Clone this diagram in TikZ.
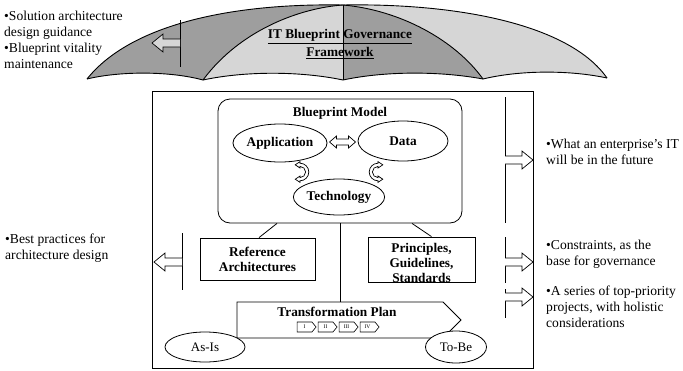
\documentclass[tikz,border=0pt]{standalone}
\usepackage{fontspec}
\setmainfont{Liberation Serif}
\usetikzlibrary{shapes.geometric,shapes.symbols,calc}
\definecolor{umdark}{gray}{0.62}
\definecolor{umlight}{gray}{0.84}
\begin{document}
\begin{tikzpicture}[x=1pt,y=-1pt,
  box/.style={draw, line width=0.8pt, inner sep=0pt},
  lbl/.style={font=\fontsize{13.3}{15}\selectfont\bfseries, align=center, inner sep=0pt},
  side/.style={font=\fontsize{13.6}{16}\selectfont, align=left, anchor=west, inner sep=0pt},
  oval/.style={draw, ellipse, line width=0.8pt, fill=white, inner sep=0pt},
  conn/.style={line width=0.8pt},
  umline/.style={line width=0.9pt},
  chev/.style={draw, signal, signal to=east, signal pointer angle=100, minimum width=19pt, minimum height=10pt, inner sep=0pt, line width=0.6pt, font=\fontsize{5.5}{5.5}\selectfont},
  harrow/.pic={\draw[line width=0.7pt, pic actions] (0,-4) -- (17,-4) -- (17,-9) -- (28,0) -- (17,9) -- (17,4) -- (0,4);},
  dharrow/.pic={\draw[line width=0.7pt, fill=white] (-13,0) -- (-6,-6) -- (-6,-3) -- (6,-3) -- (6,-6) -- (13,0) -- (6,6) -- (6,3) -- (-6,3) -- (-6,6) -- cycle;},
  cdarrow/.pic={\draw[line width=0.7pt, fill=white] (0,11) arc[start angle=90, end angle=-90, radius=11] -- (0,-13) -- (-6,-9) -- (0,-5) -- (0,-7) arc[start angle=-90, end angle=90, radius=7] -- (0,5) -- (-6,9) -- (0,13) -- cycle;}
]
\useasboundingbox (0,0) rectangle (683,370);

% ---------- umbrella ----------
\fill[umdark] (87,79) .. controls (130,25) and (230,3) .. (343,5) .. controls (300,8) and (240,30) .. (203,80) .. controls (170,71) and (120,71) .. (87,79) -- cycle;
\fill[umlight] (203,80) .. controls (240,30) and (300,8) .. (343,5) -- (343,80) .. controls (300,71) and (245,71) .. (203,80) -- cycle;
\fill[umdark] (343,5) .. controls (400,10) and (455,40) .. (483,79) .. controls (440,71) and (385,71) .. (343,80) -- cycle;
\fill[umlight] (343,5) .. controls (460,3) and (570,25) .. (607,78) .. controls (570,70) and (520,70) .. (483,79) .. controls (455,40) and (400,10) .. (343,5) -- cycle;
\draw[umline] (87,79) .. controls (130,25) and (230,3) .. (343,5) .. controls (460,3) and (570,25) .. (607,78);
\draw[umline] (203,80) .. controls (240,30) and (300,8) .. (343,5) .. controls (400,10) and (455,40) .. (483,79);
\draw[umline] (87,79) .. controls (120,71) and (170,71) .. (203,80) .. controls (245,71) and (300,71) .. (343,80) .. controls (385,71) and (440,71) .. (483,79) .. controls (520,70) and (570,70) .. (607,78);
\draw[umline] (343,5) -- (343,80);
\node[lbl] (gov) at (340,44) {\underline{IT Blueprint Governance}\\[3pt]\underline{Framework}};
\coordinate (ub1) at (180,20);
\coordinate (ub2) at (180,67);
\draw[umline] (ub1) -- (ub2);
\pic[rotate=180, fill=umlight] at (180,43) {harrow};

% ---------- side texts ----------
\node[side] (t1) at (4,40) {•Solution architecture\\design guidance\\•Blueprint vitality\\maintenance};
\node[side] (t2) at (5,248) {•Best practices for\\architecture design};
\node[side] (t3) at (546,152) {•What an enterprise's IT\\will be in the future};
\node[side] (t4) at (546,254) {•Constraints, as the\\base for governance};
\node[side] (t5) at (546,307) {•A series of top-priority\\projects, with holistic\\considerations};

% ---------- main box ----------
\node[box, minimum width=381pt, minimum height=277pt] (main) at (342.5,229.5) {};
\node[box, rounded corners=12pt, minimum width=244pt, minimum height=124pt] (bm) at (340,161) {};
\node[lbl] (bmt) at (340,113) {Blueprint Model};
\node[oval, lbl, minimum width=90pt, minimum height=38pt] (app) at (280,143) {Application};
\node[oval, lbl, minimum width=90pt, minimum height=40pt] (data) at (403,141) {Data};
\node[oval, lbl, minimum width=82pt, minimum height=36pt] (tech) at (339,197) {Technology};
\pic at ($(app.east)!0.5!(data.west)$) {dharrow};
\pic[scale=0.8] at (300,172) {cdarrow};
\pic[xscale=-0.8, yscale=0.8] at (378,172) {cdarrow};

\node[box, lbl, minimum width=115pt, minimum height=42pt] (ref) at (257.5,259) {Reference\\Architectures};
\node[box, minimum width=107pt, minimum height=45pt] (pgs) at (421.5,259.5) {};
\node[lbl] (pgst) at (421.5,262.5) {Principles,\\Guidelines,\\Standards};

% transformation plan (pentagon)
\draw[line width=0.8pt] (237,302) -- (443,302) -- (461,320) -- (443,338) -- (237,338) -- cycle;
\coordinate (tptop) at (340,302);
\node[lbl] (tpt) at (337,312) {Transformation Plan};
\node[chev] (c1) at (304.5,327) {I};
\node[chev] (c2) at (325.5,327) {II};
\node[chev] (c3) at (346.5,327) {III};
\node[chev] (c4) at (367.5,327) {IV};

\draw[conn] ($(bm.south)+(-63,0)$) -- ($(ref.north)+(1.5,0)$);
\draw[conn] ($(bm.south)+(72,0)$) -- ($(pgs.north)+(10,0)$);
\draw[conn] (bm.south) -- (bm.south |- tptop);

\node[oval, font=\fontsize{13}{15}\selectfont, minimum width=80pt, minimum height=30pt] (asis) at (205,347) {As-Is};
\node[oval, font=\fontsize{13}{15}\selectfont, minimum width=61pt, minimum height=32pt] (tobe) at (456,347) {To-Be};

% ---------- brackets and arrows ----------
\coordinate (r1a) at (505,97);  \coordinate (r1b) at (505,223);
\coordinate (r2a) at (505,237); \coordinate (r2b) at (505,283);
\coordinate (r3a) at (505,289); \coordinate (r3b) at (505,318);
\coordinate (l1a) at (182,233); \coordinate (l1b) at (182,290);
\draw[conn] (r1a) -- (r1b);
\draw[conn] (r2a) -- (r2b);
\draw[conn] (r3a) -- (r3b);
\draw[conn] (l1a) -- (l1b);
\pic[fill=white] at (505,160) {harrow};
\pic[fill=white] at (505,262) {harrow};
\pic[fill=white] at (505,297) {harrow};
\pic[rotate=180, fill=white] at (182,262) {harrow};
\end{tikzpicture}
\end{document}
